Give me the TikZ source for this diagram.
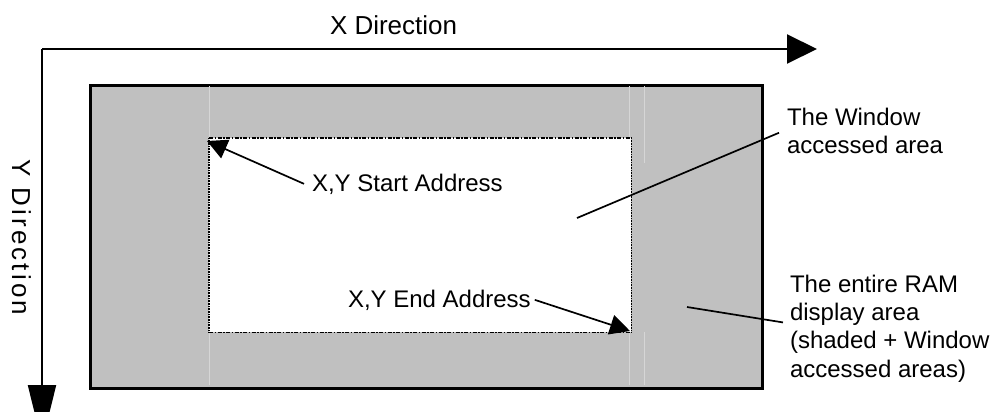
\documentclass[tikz,border=0pt]{standalone}
\usepackage{fontspec}
\setmainfont{Liberation Sans}
\usetikzlibrary{arrows.meta}
\definecolor{shade}{HTML}{C0C0C0}
\definecolor{seam}{HTML}{D6D6D6}
\tikzset{
  lbl/.style={inner ysep=0pt, outer sep=0pt, font=\fontsize{24}{28.3}\selectfont, align=left},
  axislbl/.style={inner sep=0pt, outer sep=0pt, font=\fontsize{26}{30}\selectfont},
  axisline/.style={line width=2pt},
  leader/.style={line width=1.7pt},
  pointer/.style={line width=1.7pt, -{Triangle[length=20pt,width=20pt]}},
  winedge/.style={line width=1.2pt, dash pattern=on 4pt off 1.5pt on 1.5pt off 1.5pt},
  winside/.style={line width=1.2pt, dash pattern=on 0.8pt off 0.8pt},
}
\begin{document}
\begin{tikzpicture}[x=1pt,y=-1pt]
\useasboundingbox (0,0) rectangle (996,412);
% RAM area
\node[draw=black, line width=2.7pt, fill=shade, minimum width=672pt, minimum height=303pt, inner sep=0pt, anchor=north west] (ram) at (89,84) {};
% faint seams
\draw[seam, line width=0.6pt] (209,86) -- (209,138) (209,332) -- (209,385)
  (629,86) -- (629,138) (629,332) -- (629,385)
  (644,86) -- (644,163) (644,332) -- (644,385);
% window
\node[fill=white, minimum width=422pt, minimum height=194pt, inner sep=0pt, anchor=north west] (win) at (209,138) {};
\draw[winedge] (win.north west) -- (win.north east);
\draw[winedge] (win.south west) -- (win.south east);
\draw[winside] (win.north west) -- (win.south west);
\draw[winside] (win.north east) -- (win.south east);
% axes
\coordinate (origin) at (42,49);
\coordinate (xend) at (817,49);
\coordinate (yend) at (42,443);
\draw[axisline, -{Triangle[length=30pt,width=29pt]}] (origin) -- (xend);
\draw[axisline, -{Triangle[length=58pt,width=28pt]}] (origin) -- (yend);
\node[axislbl, anchor=base west] (xdir) at (330,35) {X Direction};
\node[axislbl, rotate=-90, font=\fontsize{26}{30}\selectfont\addfontfeature{LetterSpace=12}] (ydir) at (21.5,237.5) {Y Direction};
% labels
\node[lbl, inner xsep=8pt, anchor=base west] (start) at (304,191) {X,Y Start Address};
\node[lbl, inner xsep=4pt, anchor=base west] (endaddr) at (344,307) {X,Y End Address};
\node[lbl, inner xsep=8pt, anchor=north west] (winlbl) at (779,107.8) {The Window\\accessed area};
\node[lbl, inner xsep=7pt, anchor=north west] (ramlbl) at (783,274.8) {The entire RAM\\display area\\(shaded + Window\\accessed areas)};
% pointers
\coordinate (starttip) at (207,141);
\coordinate (endtip) at (630,331);
\coordinate (winpt) at (577,218);
\coordinate (rampt) at (687,307);
\draw[pointer] (start.west) -- (starttip);
\draw[pointer] (endaddr.east) -- (endtip);
\draw[leader] ([yshift=-2pt]winlbl.west) -- (winpt);
\draw[leader] ([yshift=6pt]ramlbl.west) -- (rampt);
\end{tikzpicture}
\end{document}
